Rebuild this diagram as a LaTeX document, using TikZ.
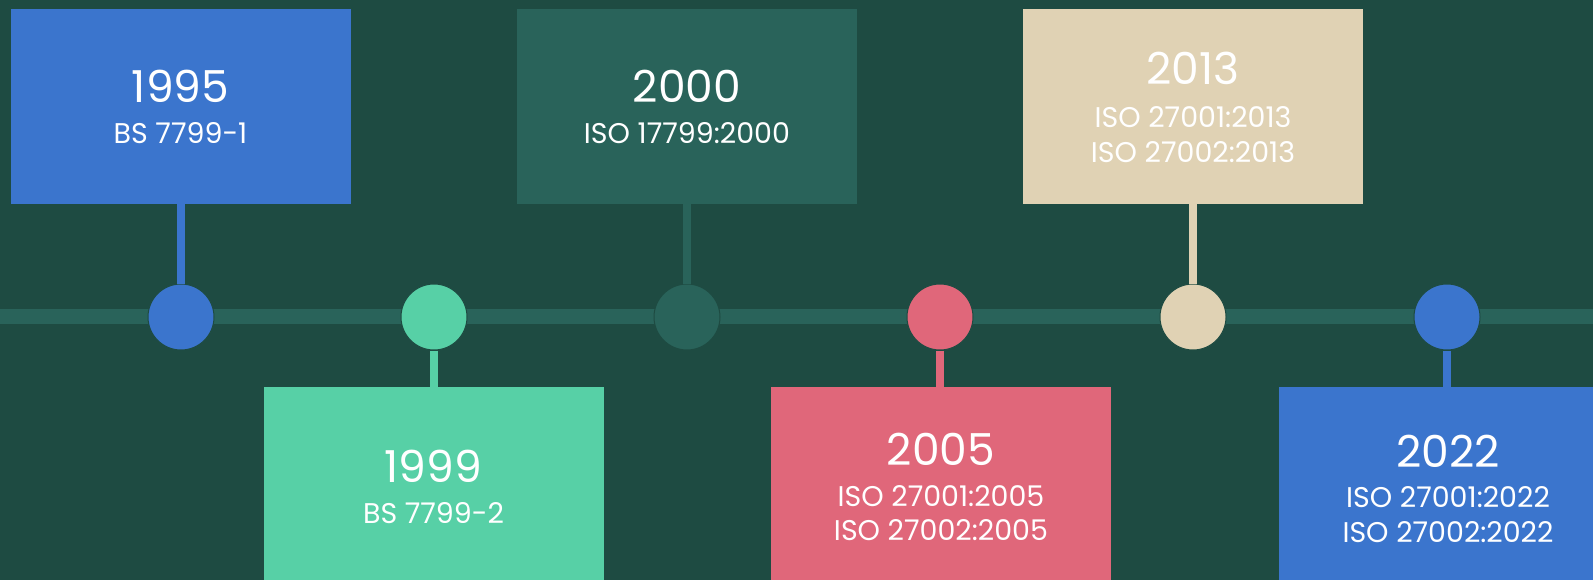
\documentclass[tikz,border=0pt]{standalone}
\usepackage{fontspec}
\setmainfont{Poppins}

\definecolor{fondo}{HTML}{1E4B42}
\definecolor{linea}{HTML}{29635A}
\definecolor{azul}{HTML}{3B75CD}
\definecolor{verde}{HTML}{57D0A6}
\definecolor{rosa}{HTML}{E0677A}
\definecolor{beige}{HTML}{E0D2B4}

\begin{document}
\begin{tikzpicture}[x=1pt, y=-1pt,
        caja/.style={rectangle, minimum width=340pt, minimum height=195pt, inner sep=0pt},
        hito/.style={circle, minimum size=66pt, inner sep=0pt, draw=fondo, line width=1pt},
        tallo/.style={line width=8pt},
        anio/.style={anchor=base, text=white, font=\fontsize{44}{44}\selectfont},
        norma/.style={anchor=base, text=white, font=\fontsize{28.5}{32}\selectfont}]

        % Fondo
        \fill[fondo] (0, 0) rectangle (1593, 580);
        \clip (0, 0) rectangle (1593, 580);

        % Linea de tiempo
        \coordinate (izq) at (0, 316.5);
        \coordinate (der) at (1593, 316.5);
        \draw[linea, line width=15pt] (izq) -- (der);

        % Cajas
        \node[caja, fill=azul] (b1995) at (180.5, 106.5) {};
        \node[caja, fill=verde] (b1999) at (433.5, 484.5) {};
        \node[caja, fill=linea] (b2000) at (687, 106.5) {};
        \node[caja, fill=rosa] (b2005) at (941, 484.5) {};
        \node[caja, fill=beige] (b2013) at (1193, 106.5) {};
        \node[caja, fill=azul] (b2022) at (1449, 484.5) {};

        % Puntos sobre la linea
        \node[hito, fill=azul] (c1995) at (181, 317) {};
        \node[hito, fill=verde] (c1999) at (434, 317) {};
        \node[hito, fill=linea] (c2000) at (687, 317) {};
        \node[hito, fill=rosa] (c2005) at (940, 317) {};
        \node[hito, fill=beige] (c2013) at (1193, 317) {};
        \node[hito, fill=azul] (c2022) at (1447, 317) {};

        % Tallos entre cajas y puntos
        \draw[tallo, azul] (c1995.north) -- (c1995.north |- b1995.south);
        \draw[tallo, verde] (c1999.south) -- (c1999.south |- b1999.north);
        \draw[tallo, linea] (c2000.north) -- (c2000.north |- b2000.south);
        \draw[tallo, rosa] (c2005.south) -- (c2005.south |- b2005.north);
        \draw[tallo, beige] (c2013.north) -- (c2013.north |- b2013.south);
        \draw[tallo, azul] (c2022.south) -- (c2022.south |- b2022.north);

        % Textos
        \node[anio] (a1995) at (180.5, 103) {1995};
        \node[norma] (n1995) at (180.5, 144) {BS 7799-1};

        \node[anio] (a1999) at (433.5, 482) {1999};
        \node[norma] (n1999) at (433.5, 523) {BS 7799-2};

        \node[anio] (a2000) at (687, 103) {2000};
        \node[norma] (n2000) at (687, 144) {ISO 17799:2000};

        \node[anio] (a2005) at (941, 465) {2005};
        \node[norma] (n2005a) at (941, 506) {ISO 27001:2005};
        \node[norma] (n2005b) at (941, 540) {ISO 27002:2005};

        \node[anio] (a2013) at (1193, 85) {2013};
        \node[norma] (n2013a) at (1193, 128) {ISO 27001:2013};
        \node[norma] (n2013b) at (1193, 163) {ISO 27002:2013};

        \node[anio] (a2022) at (1448, 467) {2022};
        \node[norma] (n2022a) at (1448, 507) {ISO 27001:2022};
        \node[norma] (n2022b) at (1448, 542) {ISO 27002:2022};

    \end{tikzpicture}
\end{document}
